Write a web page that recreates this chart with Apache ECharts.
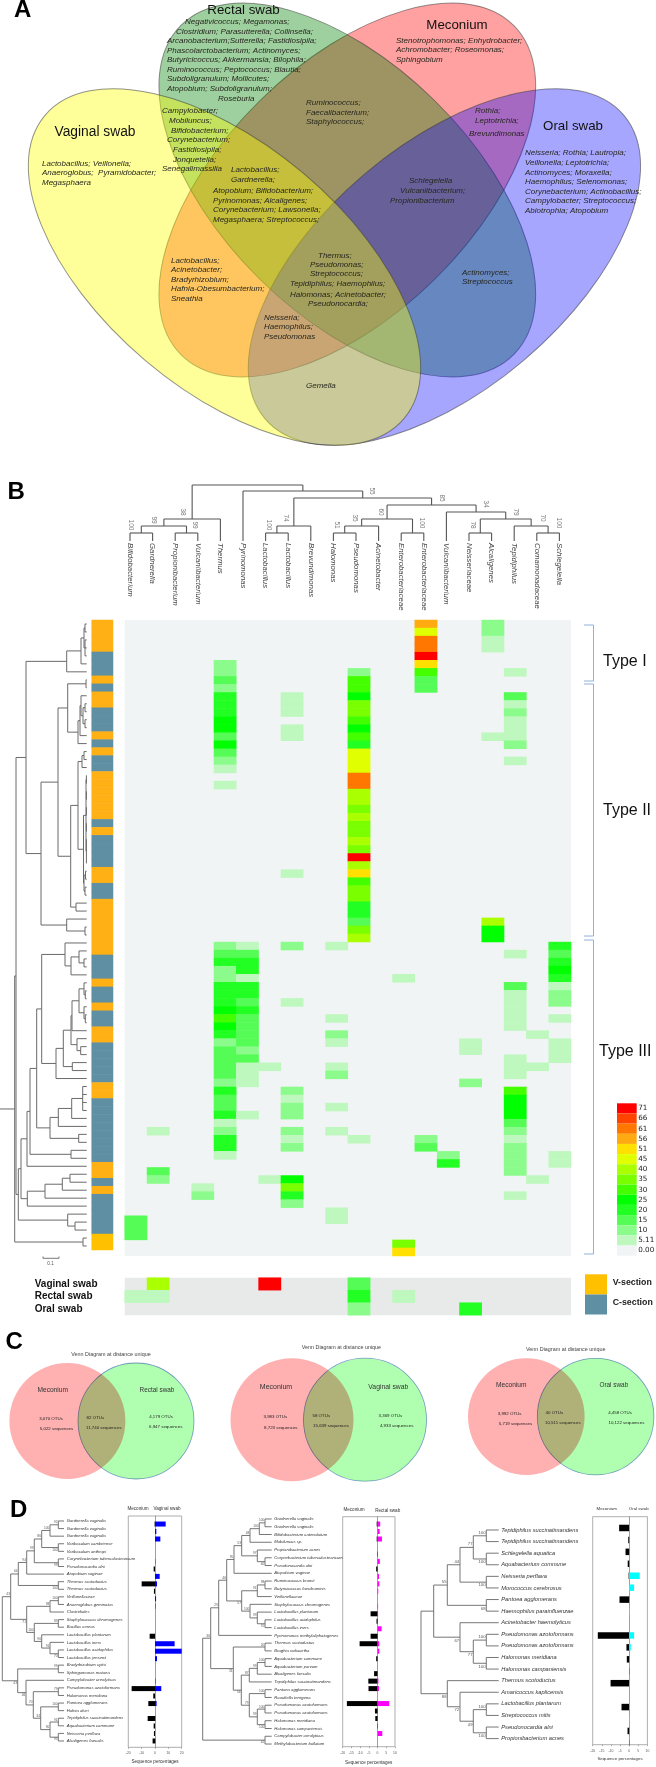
<!DOCTYPE html>
<html><head><meta charset="utf-8">
<style>html,body{margin:0;padding:0;background:#fff}#c{width:656px;height:1767px}</style>
<script src="https://cdn.jsdelivr.net/npm/echarts@6/dist/echarts.min.js"></script>
</head><body><div id="c"></div>
<script>
/* ---------- DATA: panel B heat map ---------- */
const columnNames=['Bifidobacterium','Gardnerella','Propionibacterium','Vulcaniibacterium','Thermus','Pyrinomonas','Lactobacillus','Lactobacillus','Brevundimonas','Halomonas','Pseudomonas','Acinetobacter','Enterobacteriaceae','Enterobacteriaceae','Vulcaniibacterium','Neisseriaceae','Alcaligenes','Tepidiphilus','Comamonadaceae','Schlegelella'];
const legendLevels=[0,5,10,15,20,25,30,35,40,45,51,56,61,66,71];
const legendLabels=['0.00','5.11','10','15','20','25','30','35','40','45','51','56','61','66','71'];
const legendColors=['#f1f4f5','#bff8bf','#8bfc8b','#55fc55','#22ff22','#00ff00','#44ff00','#7aff00','#aaff00','#e0ff00','#ffe000','#ffaa10','#ff7700','#ff4400','#ff0000'];
const c0=[[74,15],[75,15],[76,15]];
const c1=[[63,5],[68,15],[69,10]];
const c2=[];
const c3=[[70,5],[71,10]];
const c4=[[5,10],[6,10],[7,15],[8,10],[9,20],[10,20],[11,20],[12,25],[13,25],[14,15],[15,25],[16,15],[17,10],[18,5],[20,5],[40,10],[41,15],[42,20],[43,10],[44,10],[45,20],[46,20],[47,20],[48,25],[49,30],[50,25],[51,20],[52,10],[53,15],[54,15],[55,15],[56,15],[57,10],[58,20],[59,15],[60,15],[61,20],[62,5],[63,10],[64,20],[65,20],[66,5]];
const c5=[[40,5],[41,15],[42,20],[43,20],[44,5],[45,20],[46,20],[47,15],[48,20],[49,15],[50,15],[51,15],[52,15],[53,10],[54,15],[55,5],[56,5],[57,5],[61,5]];
const c6=[[55,5],[69,5]];
const c7=[[9,5],[10,5],[11,5],[13,5],[14,5],[31,5],[40,10],[47,5],[58,10],[59,5],[60,10],[61,10],[63,10],[64,5],[65,10],[69,25],[70,35],[71,20],[72,10]];
const c8=[];
const c9=[[40,5],[49,5],[51,10],[52,5],[55,5],[56,10],[60,5],[63,5],[73,5],[74,5]];
const c10=[[6,10],[7,30],[8,30],[9,25],[10,35],[11,35],[12,30],[13,25],[14,30],[15,20],[16,45],[17,45],[18,45],[19,61],[20,61],[21,40],[22,40],[23,35],[24,40],[25,35],[26,35],[27,40],[28,35],[29,71],[30,40],[31,51],[32,30],[33,35],[34,35],[35,20],[36,20],[37,15],[38,35],[39,40],[64,5]];
const c11=[];
const c12=[[44,5],[77,35],[78,51]];
const c13=[[0,56],[1,45],[2,61],[3,61],[4,71],[5,51],[6,30],[7,15],[8,15],[64,10],[65,15]];
const c14=[[66,10],[67,20]];
const c15=[[52,5],[53,5],[57,10]];
const c16=[[0,10],[1,10],[2,5],[3,5],[14,5],[37,40],[38,25],[39,25]];
const c17=[[6,5],[9,15],[10,5],[11,10],[12,5],[13,5],[14,5],[15,10],[17,5],[41,5],[45,15],[46,5],[47,5],[48,5],[49,5],[50,5],[54,5],[55,5],[56,5],[58,30],[59,25],[60,25],[61,25],[62,15],[63,10],[64,5],[65,10],[66,10],[67,10],[68,10],[71,5]];
const c18=[[51,5],[55,5],[69,5]];
const c19=[[40,20],[41,15],[42,20],[43,25],[44,20],[45,5],[46,10],[47,10],[49,5],[52,5],[53,5],[54,5],[66,5],[67,5]];
const heatColumns=[c0,c1,c2,c3,c4,c5,c6,c7,c8,c9,c10,c11,c12,c13,c14,c15,c16,c17,c18,c19];
/* 0 = V-section, 1 = C-section, 2 = V-section (last pair) */
const sectionByRow=[0,0,0,0,1,1,1,0,1,0,0,1,1,1,0,1,0,1,1,0,0,0,0,0,0,1,0,1,1,1,1,0,0,1,1,0,0,0,0,0,0,0,1,1,1,0,1,1,0,1,1,0,0,1,1,1,1,1,0,0,1,1,1,1,1,1,1,1,0,0,1,0,1,1,1,1,1,2,2];
const swabNames=['Vaginal swab','Rectal swab','Oral swab'];
const vaginalCells=[[1,40],[6,71],[10,15]];
const rectalCells=[[0,5],[1,5],[10,20],[12,5]];
const oralCells=[[10,10],[15,20]];
/* trees: [height, optional bootstrap, ...children]; a number is a leaf row */
const colTree=[56,
  [22,[15,[8,0,1],[8,2,3]],4],
  [50,5,[43,
    [15,[8,6,7],8],
    [36,
      [22,[15,[8,9,10],11],[8,12,13]],
      [29,14,[22,[8,15,16],[15,17,[8,18,19]]]]]]]];
const colBootstrap=[[0.05,16,'100'],[1.06,21,'99'],[2.35,29,'38'],[2.88,16,'99'],[6.15,16,'100'],[6.9,23,'74'],[9.16,16,'51'],[9.96,23,'35'],[11.1,29,'60'],[10.7,50,'55'],[13.8,43,'85'],[12.9,18,'100'],[15.75,37,'34'],[17.08,29,'79'],[15.18,16,'78'],[18.26,23,'70'],[18.98,18,'100']];
const rowTree=[0,[14.7,
 [16,
  [26,
    [66.7,[81,[84,[85,0,1],[85,2,3,4]],5],6],
    [41,
      [58,
        [67.7,[86,7,8],[78,[80,[81,9,[83,[85,10,11],[85,12,13]]],14],15]],
        [70.7,
          [78,[82,[84,16,17],18],[83.5,[86,[86.4,19,20],[86.4,21,22],[86.4,23,24],[86.4,25,26],[86.4,27,28,29,30]],[84,[85.5,31,32],[85,33,34]]]],
          [76,35,36]]],
      [66.7,37,[85,38,39]]]],
  [18.3,
    [21,
      [27,
        [30,
          [36.7,
            [41.7,
              [65,40,[71,[79,41,[84,42,43]],44]],
              [56,[63.3,[71,[72,[79,[84,45,[85.3,46,47]],[84,48,[85.3,49,50]]],51],[77,52,[80.7,53,54]]],[72.3,55,56]],57]],
            [50,[58.3,[71.7,[82.7,58,59,60,61],62],63],[78.7,64,65]]],
          [71,66,67]],
        68],
      [27.3,[45,[62.3,[70,69,70],71],72],73]],
    [67.7,74,[75,75,76]]]],
 [83,77,78]]];
/* ---------- DATA: panel D ---------- */
const d1Names=['Gardnerella vaginalis','Gardnerella vaginalis','Gardnerella vaginalis','Varibaculum cambriense','Varibaculum anthropi','Corynebacterium tuberculostearicum','Pseudonocardia alni','Atopobium vaginae','Thermus scotoductus','Thermus scotoductus','Veillonellaceae','Anaeroglobus geminatus','Clostridiales','Staphylococcus chromogenes','Bacillus cereus','Lactobacillus plantarum','Lactobacillus iners','Lactobacillus acidophilus','Lactobacillus jensenii','Bradyrhizobium cytisi','Sphingomonas mataea','Campylobacter ureolyticus','Pseudomonas azotoformans','Halomonas meridiana','Pantoea agglomerans','Hafnia alvei','Tepidiphilus succinatimandens','Aquabacterium commune','Neisseria perflava','Alcaligenes faecalis'];
const d1Meconium=[-0.3,0,0,0,0,0,-1,0,-10,-0.8,0,0,0,0,0,-4,0,0,0,0,0,0,-17.5,-1.3,-5,0,-5.5,-1,-0.8,-1.8];
const d1Vaginal=[8,1,4,0,0,0.2,0,3.5,1.5,0,0.8,0.3,0,0,0,0,14.7,20,1.5,0,0,0.3,4.7,0,1.2,0,0.3,0,0,0.3];
const d1Tree=[2.3,
  [10.7,'43',
    [18.3,'64',
      [26.7,'94',
        [34.3,'99',
          [41.7,'86',[50,'100',[58.3,'92',0,1],2],[58.3,'_100',3,4]],
          [58.3,'_99',5,6]],
        7],
      [58.3,'_100',8,9]],
    [26.7,'_71',
      [50,'98',[58.3,'100',10,11],12],
      [34.3,'100',[58.3,'89',13,14],[41.7,'96',15,[50,'91',16,[58.3,'_70',17,18]]]]]],
  [17.7,'_43',
    [58.3,'99',19,20],
    [26,'_46',21,
      [33.3,'70',[58.3,'79',22,23],[40.7,'34',[58.3,'100',24,25],[50,'90',[58.3,'91',26,27],[58.3,'_95',28,29]]]]]]];
const d2Names=['Gardnerella vaginalis','Gardnerella vaginalis','Bifidobacterium catenulatum','Mobiluncus sp.','Propionibacterium acnes','Corynebacterium tuberculostearicum','Pseudonocardia alni','Atopobium vaginae','Ruminococcus bromii','Butyricicoccus faecihominis','Veillonellaceae','Staphylococcus chromogenes','Lactobacillus plantarum','Lactobacillus acidophilus','Lactobacillus iners','Pyrinomonas methylaliphatogenes','Thermus scotoductus','Brughia radiacirtha','Aquabacterium commune','Aquabacterium parvum','Alcaligenes faecalis','Tepidiphilus succinatimandens','Pantoea agglomerans','Raoultella terrigena','Pseudomonas azotoformans','Pseudomonas azotoformans','Halomonas meridiana','Halomonas campaniensis','Campylobacter ureolyticus','Methylobacterium bullatum'];
const d2Meconium=[-0.5,0,-0.5,0,-0.2,0,-0.8,0,0,0,0,0,-4,-0.6,0,-4,-10.3,0,-0.8,0,-2,-5.3,-5.2,0,-17.6,-1.5,-1.3,-0.2,0,0];
const d2Rectal=[1.5,1.2,2.5,0,0,1.3,0,0.8,1,0.4,0,0.3,0.3,0,2.3,0,1,1,0,0,0,0.5,0.8,0,6.7,0,0,0,2.7,0];
const d2Tree=[202.7,
  [210.7,'36',
    [218.7,'29',
      [226.7,'46',
        [234,'95',
          [241.7,'53',
            [250,'48',[259.3,'100',[265,'100',0,1],2],3],
            [257.3,'97',4,[265,'_40',5,6]]],
          7],
        [241.7,'_57',
          [257.3,'91',[265,'98',8,9],10],
          [250,'100',11,[257.3,'99',12,[265,'_70',13,14]]]]],
      15],
    [233.3,'_31',
      [265,'20',16,17],
      [241.3,'_54',
        [249.3,'87',[257.3,'99',[265,'100',18,19],20],21],
        [249.3,'79',[265,'100',22,23],[257.3,'99',[265,'100',24,25],[265,'_100',26,27]]]]]],
  [265,'_42',28,29]];
const d3Names=['Tepidiphilus succinatimandens','Tepidiphilus succinatimandens','Schlegelella aquatica','Aquabacterium commune','Neisseria perflava','Morococcus cerebrosus','Pantoea agglomerans','Haemophilus parainfluenzae','Acinetobacter haemolyticus','Pseudomonas azotoformans','Pseudomonas azotoformans','Halomonas meridiana','Halomonas campaniensis','Thermus scotoductus','Amaricoccus kaplicensis','Lactobacillus plantarum','Streptococcus mitis','Pseudonocardia alni','Propionibacterium acnes'];
const d3Meconium=[-5.5,-0.5,-2,-0.8,-0.3,0,-5.3,0,0,-17.2,-1.5,-1.3,-0.1,-10.2,0,-4.2,0,-0.9,-0.1];
const d3Oral=[0.2,0,0,0,5.8,2.7,0,0.4,0,2.7,0.9,0,0,0.3,0,0.3,0.2,0,0];
const d3Tree=[421,
  [433.7,
    [447.3,'55',
      [460,'44',
        [473.3,'77',[486.3,'100',0,1],[486.3,'_100',2,3]],
        [486.3,'_100',4,5]],
      [486.3,'_68',6,7]],
    [460,'_67',8,[473.3,'_77',[486.3,'100',9,10],[486.3,'_100',11,12]]]],
  [447.3,'_88',13,
    [460,'_72',14,[473.3,'_49',[486.3,'100',15,16],[486.3,'_100',17,18]]]]];
/* ---------- TEXT: panels A and C ---------- */
const vennGenera=['Negativicoccus; Megamonas;','Clostridium; Parasutterella; Collinsella;','Arcanobacterium;Sutterella; Fastidiosipila;','Phascolarctobacterium; Actinomyces;','Butyricicoccus; Akkermansia; Bilophila;','Ruminococcus; Peptococcus; Blautia;','Subdoligranulum; Mollicutes;','Atopobium; Subdoligranulum;','Roseburia','Campylobacter;','Mobiluncus;','Bifidobacterium;','Corynebacterium;','Fastidiosipila;','Jonquetella;','Senegalimassilia','Stenotrophomonas; Enhydrobacter;','Achromobacter; Roseomonas;','Sphingobium','Ruminococcus;','Faecalibacterium;','Staphylococcus;','Rothia;','Leptotrichia;','Brevundimonas','Neisseria; Rothia; Lautropia;','Veillonella; Leptotrichia;','Actinomyces; Moraxella;','Haemophilus; Selenomonas;','Corynebacterium; Actinobacillus;','Campylobacter; Streptococcus;','Abiotrophia; Atopobium','Lactobacillus; Veillonella;','Anaeroglobus;  Pyramidobacter;','Megasphaera','Lactobacillus;','Gardnerella;','Atopobium; Bifidobacterium;','Pyrinomonas; Alcaligenes;','Corynebacterium; Lawsonella;','Megasphaera; Streptococcus;','Schlegelella','Vulcaniibacterium;','Propionibacterium','Lactobacillus;','Acinetobacter;','Bradyrhizobium;','Hafnia-Obesumbacterium;','Sneathia','Thermus;','Pseudomonas;','Streptococcus;','Tepidiphilus; Haemophilus;','Halomonas; Acinetobacter;','Pseudonocardia;','Actinomyces;','Streptococcus','Neisseria;','Haemophilus;','Pseudomonas','Gemella'];
const vennGeneraAt=[[185,22],[176,32],[167,41],[167,51],[167,60],[167,70],[167,79],[167,89],[218,99],[162,111],[169,121],[171,131],[167,140],[173,150],[173,160],[162,169],[396,41],[396,50],[396,60],[306,103],[306,113],[306,122],[475,111],[475,121],[469,134],[525,153],[525,163],[525,173],[525,182],[525,192],[525,201],[525,211],[42,164],[42,173],[42,183],[231,170],[231,180],[213,191],[213,201],[213,210],[213,220],[409,181],[400,191],[390,201],[171,261],[171,270],[171,280],[171,289],[171,299],[318,256],[310,265],[310,274],[290,284],[290,295],[308,304],[462,273],[462,282],[264,318],[264,327],[264,337],[306,386]];

/* ---------- BUILD ---------- */
const FF='"Liberation Sans"';
const grids=[],xAxes=[],yAxes=[],series=[],gfx=[];
function addGrid(rect,x,y){grids.push(Object.assign({containLabel:false},rect));const i=grids.length-1;
  xAxes.push(Object.assign({gridIndex:i},x));yAxes.push(Object.assign({gridIndex:i},y));return i;}
const hiddenVal=(min,max,extra)=>Object.assign({type:'value',show:false,min,max},extra||{});
const hiddenCat=(data,extra)=>Object.assign({type:'category',show:false,data},extra||{});

function walkTree(root,leafH){
  const segs=[],labs=[];
  (function walk(n){
    if(typeof n==='number')return {p:n,h:leafH};
    const kids=n.slice(1);let lab=null;
    if(typeof kids[0]==='string')lab=kids.shift();
    const cs=kids.map(walk),a=cs[0].p,b=cs[cs.length-1].p,p=(a+b)/2;
    segs.push([n[0],a,n[0],b]);
    cs.forEach(c=>segs.push([n[0],c.p,c.h,c.p]));
    if(lab)labs.push([n[0],p,lab]);
    return {p,h:n[0]};
  })(root);
  return {segs,labs};
}
function lineSeries(g,data,color,w){
  series.push({type:'custom',coordinateSystem:'cartesian2d',xAxisIndex:g,yAxisIndex:g,silent:true,data,
    renderItem:(p,api)=>{const a=api.coord([api.value(0),api.value(1)]),b=api.coord([api.value(2),api.value(3)]);
      return {type:'line',shape:{x1:a[0],y1:a[1],x2:b[0],y2:b[1]},style:{stroke:color,lineWidth:w,fill:null}};}});
}
function textSeries(g,points,texts,st){
  series.push({type:'custom',coordinateSystem:'cartesian2d',xAxisIndex:g,yAxisIndex:g,silent:true,data:points,
    renderItem:(p,api)=>{const a=api.coord([api.value(0),api.value(1)]);
      return {type:'text',x:a[0]+(st.dx||0),y:a[1]+(st.dyFn?st.dyFn(p.dataIndex):(st.dy||0)),rotation:st.rotation||0,
        style:{text:texts[p.dataIndex],fill:st.fill,fontSize:st.fontSize,fontStyle:st.italic?'italic':'normal',fontFamily:FF,align:st.align||'left',verticalAlign:'middle'}};}});
}

/* Panel B: main heat map */
const heatData=[];heatColumns.forEach((col,i)=>col.forEach(([r,v])=>heatData.push([i,r,v])));
const rowIds=sectionByRow.map((_,i)=>i);
const gHeat=addGrid({left:124.7,top:620,width:446.3,height:636,show:true,backgroundColor:'#f1f4f5',borderWidth:0},
  hiddenCat(columnNames.map((n,i)=>i)),hiddenCat(rowIds,{inverse:true}));
series.push({type:'heatmap',xAxisIndex:gHeat,yAxisIndex:gHeat,data:heatData,silent:true,itemStyle:{borderWidth:0},emphasis:{disabled:true}});
const iHeat=series.length-1;
/* side bar */
const gSide=addGrid({left:91.7,top:620,width:21.3,height:630},hiddenCat([0]),hiddenCat(rowIds,{inverse:true}));
series.push({type:'heatmap',xAxisIndex:gSide,yAxisIndex:gSide,data:sectionByRow.map((s,r)=>[0,r,s]),silent:true,emphasis:{disabled:true}});
const iSide=series.length-1;
/* swab strip */
const gMini=addGrid({left:124.7,top:1277.7,width:446.3,height:37.5,show:true,backgroundColor:'#e8eaea',borderWidth:0},
  hiddenCat(columnNames.map((n,i)=>i)),
  {type:'category',data:swabNames,inverse:true,axisLine:{show:false},axisTick:{show:false},
   axisLabel:{show:true,interval:0,align:'left',margin:90,color:'#111',fontFamily:FF,fontWeight:'bold',fontSize:10}});
const miniData=[];[vaginalCells,rectalCells,oralCells].forEach((row,r)=>row.forEach(([c,v])=>miniData.push([c,r,v])));
series.push({type:'heatmap',xAxisIndex:gMini,yAxisIndex:gMini,data:miniData,silent:true,emphasis:{disabled:true}});
const iMini=series.length-1;

/* column dendrogram: leaves step along value axis */
const gTop=addGrid({left:130,top:485,width:429.4,height:56},hiddenVal(0,19),hiddenVal(0,56));
const ct=walkTree(colTree,0);
lineSeries(gTop,ct.segs.map(s=>[s[1],s[0],s[3],s[2]]),'#555',1.1);
textSeries(gTop,columnNames.map((n,i)=>[i,-2]),columnNames,{fill:'#444',fontSize:7.8,italic:true,rotation:-Math.PI/2});
textSeries(gTop,colBootstrap.map(b=>[b[0],b[1]]),colBootstrap.map(b=>b[2]),{fill:'#777',fontSize:6.5,rotation:-Math.PI/2,align:'center'});
/* row dendrogram */
const gLeft=addGrid({left:0,top:620,width:87,height:630},hiddenVal(0,87),hiddenVal(-0.5,78.5,{inverse:true}));
lineSeries(gLeft,walkTree(rowTree,86.7).segs,'#6a6a6a',1);

/* Panel D */
function dPanel(o){
  const gT=addGrid({left:o.treeL,top:o.rowTop,width:o.treeW,height:o.rowStep*o.names.length},
    hiddenVal(o.treeL,o.treeL+o.treeW),hiddenVal(-0.5,o.names.length-0.5,{inverse:true}));
  const t=walkTree(o.tree,o.treeL+o.treeW);
  lineSeries(gT,t.segs,'#666',0.9);
  textSeries(gT,o.names.map((n,i)=>[o.treeL+o.treeW+o.labelGap,i]),o.names,{fill:'#333',fontSize:o.fs,italic:true});
  textSeries(gT,t.labs.map(l=>[l[0],l[1]]),t.labs.map(l=>l[2].replace('_','')),
    {fill:'#555',fontSize:o.bs,align:'right',dx:-0.8,dyFn:i=>t.labs[i][2][0]==='_'?o.bs*0.75:-o.bs*0.75});
  const lab={fontSize:o.tickFs,color:'#555',fontFamily:FF,margin:o.tickGap};
  addGrid({left:o.boxL,top:o.boxT,width:o.boxW,height:o.boxH,show:true,borderColor:'#999',borderWidth:0.8,backgroundColor:'transparent'},
    {type:'value',min:o.min,max:o.max,interval:o.step,position:'bottom',axisLine:{show:false,onZero:false},splitLine:{show:false},
     axisTick:{show:true,length:1.5,lineStyle:{color:'#777',width:0.6}},axisLabel:lab},
    {type:'value',min:0,max:1,axisLine:{show:true,onZero:true,lineStyle:{color:'#888',width:0.8}},axisTick:{show:false},axisLabel:{show:false},splitLine:{show:false}});
  const b=addGrid({left:o.boxL,top:o.barTop,width:o.boxW,height:o.barStep*o.names.length},
    hiddenVal(o.min,o.max),hiddenCat(o.names.map((n,i)=>i),{inverse:true}));
  const barS=(data,color)=>({type:'bar',xAxisIndex:b,yAxisIndex:b,data,barWidth:o.barW,barGap:'-100%',silent:true,itemStyle:{color}});
  series.push(barS(o.meconium,'#000'),barS(o.other,o.color));
  o.titles.forEach(t=>gtext(t[0],t[1],t[2],{fontSize:o.titleFs,fill:'#333',align:'center'}));
}
function gtext(x,y,text,st){gfx.push({type:'text',x,y,z:20,silent:true,style:Object.assign({text,fontFamily:FF,verticalAlign:'middle',fill:'#222'},st)});}
dPanel({treeL:0,treeW:64,rowTop:1517.2,rowStep:7.586,tree:d1Tree,names:d1Names,labelGap:2.7,fs:4.2,bs:3.2,tickFs:3.4,tickGap:4.5,
  boxL:128.3,boxT:1516,boxW:53.4,boxH:231.3,min:-20,max:20,step:10,barTop:1520.3,barStep:7.48,barW:5,
  meconium:d1Meconium,other:d1Vaginal,color:'#0000ff',titleFs:4.6,
  titles:[[138,1509,'Meconium'],[167,1509,'Vaginal swab'],[155,1761.7,'Sequence percentages']]});
dPanel({treeL:200,treeW:71.7,rowTop:1515.1,rowStep:7.76,tree:d2Tree,names:d2Names,labelGap:2.6,fs:4.2,bs:3.2,tickFs:3.4,tickGap:4.5,
  boxL:342.7,boxT:1516.7,boxW:52.3,boxH:230,min:-20,max:10,step:5,barTop:1520.3,barStep:7.48,barW:5,
  meconium:d2Meconium,other:d2Rectal,color:'#ff00ff',titleFs:4.6,
  titles:[[354,1510,'Meconium'],[387.7,1511,'Rectal swab'],[368.7,1763,'Sequence percentages']]});
dPanel({treeL:420,treeW:78.7,rowTop:1524.2,rowStep:11.59,tree:d3Tree,names:d3Names,labelGap:2.6,fs:5.7,bs:4.2,tickFs:3.4,tickGap:4.5,
  boxL:592.7,boxT:1516.7,boxW:54.7,boxH:228,min:-20,max:10,step:5,barTop:1522,barStep:11.94,barW:6.5,
  meconium:d3Meconium,other:d3Oral,color:'#00ffff',titleFs:4.4,
  titles:[[606.7,1508.7,'Meconium'],[638.7,1509,'Oral swab'],[620,1758.7,'Sequence percentages']]});

/* Panel A venn */
const deg=Math.PI/180;
[[347.3,190,234,125,44.6,'rgba(255,0,0,0.37)'],
 [347.3,190,234,125,-44.6,'rgba(0,128,0,0.38)'],
 [444.4,267,235,122.5,40.2,'rgba(0,0,255,0.35)'],
 [224.5,267,235,122.5,-40.2,'rgba(255,255,0,0.4)']].forEach(e=>{
  gfx.push({type:'ellipse',x:e[0],y:e[1],rotation:e[4]*deg,silent:true,z:5,shape:{cx:0,cy:0,rx:e[2],ry:e[3]},
    style:{fill:e[5],stroke:'rgba(60,60,60,0.55)',lineWidth:1}});
});
vennGenera.forEach((t,i)=>gtext(vennGeneraAt[i][0],vennGeneraAt[i][1],t,{fontSize:8,fontStyle:'italic',fill:'#26261e',align:'left'}));
gtext(243.5,10,'Rectal swab',{fontSize:13.3,align:'center',fill:'#111'});
gtext(457,25.7,'Meconium',{fontSize:13.3,align:'center',fill:'#111'});
gtext(95,132,'Vaginal swab',{fontSize:13.8,align:'center',fill:'#111'});
gtext(573,126.7,'Oral swab',{fontSize:13.3,align:'center',fill:'#111'});
/* panel letters */
[['A',14,10],['B',7.5,492],['C',5.4,1342],['D',10,1510]].forEach(l=>gtext(l[1],l[2],l[0],{fontSize:24,fontWeight:'bold',fill:'#000',align:'left'}));
/* brackets */
[[625,681,'Type I',603,662],[684,936,'Type II',603,811],[940,1254,'Type III',599,1052]].forEach(b=>{
  gfx.push({type:'polyline',silent:true,z:5,shape:{points:[[584,b[0]],[593.5,b[0]],[593.5,b[1]],[584,b[1]]]},style:{stroke:'#8fb2dc',lineWidth:1,fill:null}});
  gtext(b[3],b[4],b[2],{fontSize:16,align:'left',fill:'#111'});
});
/* section legend */
gfx.push({type:'rect',silent:true,z:5,shape:{x:585,y:1274.3,width:22,height:20.2},style:{fill:'#ffc000'}});
gfx.push({type:'rect',silent:true,z:5,shape:{x:585,y:1294.5,width:22,height:20},style:{fill:'#5f8fa3'}});
gtext(612.7,1283,'V-section',{fontSize:8.8,fontWeight:'bold',fill:'#222'});
gtext(612.7,1303,'C-section',{fontSize:8.8,fontWeight:'bold',fill:'#222'});
/* scale bar */
gfx.push({type:'polyline',silent:true,z:5,shape:{points:[[43,1256.5],[43,1258.3],[59,1258.3],[59,1256.5]]},style:{stroke:'#555',lineWidth:0.8,fill:null}});
gtext(50.5,1263.5,'0.1',{fontSize:4.6,align:'center',fill:'#555'});
/* Panel C venn */
[[67.4,136,1421,58,
  [[52.7,1389.7,'Meconium',6.6],[157,1390,'Rectal swab',6.4]],
  [[51,1418.3,'3,070 OTUs'],[56.5,1428.7,'5,022 sequences'],[95.4,1417.3,'82 OTUs'],[103.8,1427.3,'11,740 sequences'],[161,1417,'4,179 OTUs'],[165.7,1427,'6,947 sequences']],
  [111,1355]],
 [292,365,1419.7,61.5,
  [[276,1386.7,'Meconium',7],[388.3,1386.7,'Vaginal swab',6.8]],
  [[275.3,1417,'3,983 OTUs'],[280.8,1427.7,'8,723 sequences'],[321.3,1416,'58 OTUs'],[331,1426,'15,639 sequences'],[390.4,1416,'3,369 OTUs'],[396.6,1426,'4,933 sequences']],
  [341.4,1348]],
 [526.3,595.6,1416.6,58.3,
  [[511.3,1385,'Meconium',6.6],[613.8,1385,'Oral swab',6.4]],
  [[509.6,1414,'3,992 OTUs'],[515.5,1424,'5,719 sequences'],[554.4,1412.7,'40 OTUs'],[562.8,1422.7,'10,511 sequences'],[620,1412.7,'4,458 OTUs'],[626.4,1422.7,'10,122 sequences']],
  [565.7,1350]]].forEach(v=>{
  gfx.push({type:'circle',silent:true,z:6,shape:{cx:v[0],cy:v[2],r:v[3]},style:{fill:'#ffb0b0'}});
  gfx.push({type:'circle',silent:true,z:7,shape:{cx:v[1],cy:v[2],r:v[3]},style:{fill:'#b0ffb0',blend:'multiply',stroke:'#7a9bd8',lineWidth:0.8}});
  v[4].forEach(t=>gtext(t[0],t[1],t[2],{fontSize:t[3],align:'center',fill:'#333'}));
  v[5].forEach(t=>gtext(t[0],t[1],t[2],{fontSize:4.4,align:'center',fill:'#222'}));
  gtext(v[6][0],v[6][1],'Venn Diagram at distance unique',{fontSize:5.4,align:'center',fill:'#444'});
});

const edges=[-1].concat(legendLevels.slice(0,-1).map((l,i)=>(l+legendLevels[i+1])/2),[200]);
const chart=echarts.init(document.getElementById('c'),null,{renderer:'canvas',width:656,height:1767});
chart.setOption({
  animation:false,backgroundColor:'#fff',grid:grids,xAxis:xAxes,yAxis:yAxes,series,
  tooltip:{show:false},
  visualMap:[
    {type:'piecewise',seriesIndex:[iHeat,iMini],dimension:2,left:617,top:1103.3,orient:'vertical',
     itemWidth:19.7,itemHeight:10.16,itemGap:0,textGap:1.5,itemSymbol:'rect',selectedMode:false,hoverLink:false,padding:0,align:'left',
     textStyle:{fontSize:7.2,color:'#222',fontFamily:'"DejaVu Sans"'},
     pieces:legendLevels.map((l,i)=>({gte:edges[i],lt:edges[i+1],label:legendLabels[i],color:legendColors[i]}))},
    {type:'piecewise',seriesIndex:[iSide],dimension:2,show:false,
     pieces:[{value:0,color:'#ffb014'},{value:1,color:'#5f8fa3'},{value:2,color:'#ffc000'}]}
  ],
  graphic:{elements:gfx}
});
</script></body></html>
